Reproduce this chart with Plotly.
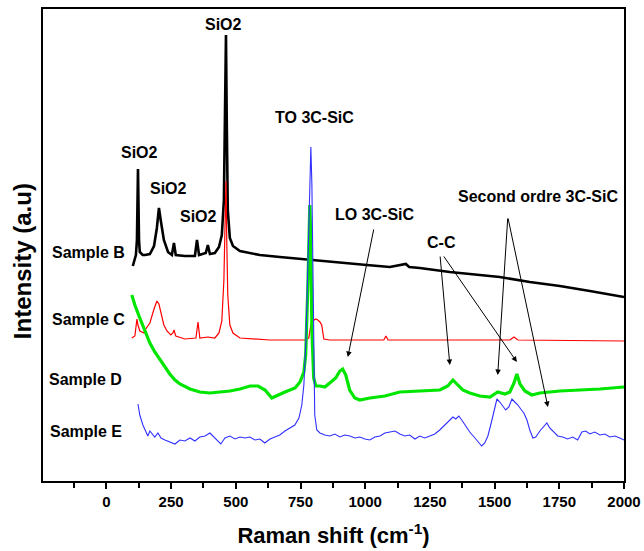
import plotly.graph_objects as go

# ---- data (Raman shift in cm-1, intensity in arbitrary units, curves offset) ----
b_x = [102,114,118,122,126,129,140,149,168,184,195,203,211,222,238,253,261,268,303,342,350,358,384,392,400,419,435,446,454,458,462,465,469,477,489,516,593,670,748,825,902,1006,1095,1157,1170,1211,1327,1443,1520,1636,1752,1868,2000]
b_y = [215,226,241,312,241,229,226,226,227,235,253,273,259,241,229,226,238,226,225,225,241,226,228,236,227,228,234,246,281,361,446,361,271,243,235,230,226,224,222,220,218,216,214,217,214,213,209,206,204,199,195,190,184]

c_x = [98,110,118,122,129,145,152,168,184,195,203,211,222,234,249,257,261,268,303,346,354,361,392,419,435,446,454,458,462,465,469,477,489,516,632,767,782,790,797,809,817,825,832,840,863,1072,1080,1088,1327,1559,1575,1590,2000]
c_y = [143,145,162,156,150,148,152,158,172,180,177,168,156,150,146,148,151,145,142,143,159,143,144,143,148,160,201,251,300,241,186,156,148,143,141,141,143,156,160,162,161,159,156,142,141,141,145,141,141,141,144,141,140]

d_x = [98,110,129,149,168,187,207,226,245,265,284,323,361,400,439,477,516,555,586,613,639,663,690,729,748,763,770,778,786,790,794,801,809,825,844,863,886,902,913,925,940,960,979,1018,1076,1134,1211,1288,1319,1339,1354,1377,1404,1443,1482,1512,1540,1559,1575,1586,1598,1617,1644,1675,1752,1830,1907,2000]
d_y = [186,176,163,151,138,129,121,114,107,101,97,92,89,88,89,90,92,95,95,91,83,86,89,93,99,109,126,191,276,241,151,103,95,95,94,98,103,110,112,106,91,83,81,83,85,89,90,91,95,101,97,91,88,85,84,89,87,89,98,107,97,90,86,88,90,91,92,94]

e_x = [122,129,141,153,160,168,176,187,199,211,226,245,265,284,303,323,342,361,381,400,415,431,442,458,477,497,516,535,554,574,593,612,632,651,670,690,709,728,744,755,763,771,779,786,790,794,798,801,805,813,825,844,863,883,902,921,941,960,979,999,1018,1037,1057,1076,1095,1115,1134,1153,1172,1192,1211,1230,1250,1269,1288,1307,1327,1339,1350,1362,1373,1389,1404,1424,1439,1450,1462,1474,1485,1497,1509,1520,1532,1543,1555,1567,1578,1590,1601,1613,1625,1636,1648,1659,1675,1690,1702,1713,1729,1744,1763,1782,1802,1821,1837,1852,1868,1887,1907,1926,1945,1965,1984,2000]
e_y = [77,66,56,48,45,50,47,44,48,43,41,39,37,41,40,43,40,44,45,48,44,40,37,43,45,42,44,43,44,41,42,38,42,44,46,50,53,56,63,76,96,141,221,301,334,296,211,111,66,51,48,46,45,47,44,46,45,43,44,42,41,44,45,48,49,50,47,45,46,42,45,43,45,47,51,56,61,64,62,65,61,55,49,43,38,35,38,45,56,69,82,79,75,71,74,82,79,76,72,68,61,51,43,44,50,54,58,53,49,45,44,42,44,41,49,50,47,49,46,47,44,45,43,41]

x_ticks = [0, 250, 500, 750, 1000, 1250, 1500, 1750, 2000]
x_range = [-245, 2000]
y_range = [0, 472]

sample_labels = ["Sample B", "Sample C", "Sample D", "Sample E"]
sample_label_x = [-71, -71, -79, -79]
sample_label_y = [229, 162, 102, 50]

peak_labels = ["SiO2", "SiO2", "SiO2", "SiO2", "TO 3C-SiC", "LO 3C-SiC", "C-C", "Second ordre 3C-SiC"]
peak_label_x = [129, 238, 354, 454, 803, 1038, 1293, 1667]
peak_label_y = [329, 293, 265, 457, 364, 267, 239, 285]

# arrows: tail (x0, y0) -> head (x1, y1)
arrow_x0 = [1034, 1289, 1300, 1551, 1551]
arrow_y0 = [253, 226, 226, 264, 264]
arrow_x1 = [933, 1327, 1586, 1512, 1706]
arrow_y1 = [124, 116, 119, 106, 74]

FONT = "Liberation Sans, Arial, sans-serif"

fig = go.Figure()
fig.add_trace(go.Scatter(x=b_x, y=b_y, mode="lines", line=dict(color="#000000", width=2.6), name="Sample B"))
fig.add_trace(go.Scatter(x=c_x, y=c_y, mode="lines", line=dict(color="#ff0000", width=1.2), name="Sample C"))
fig.add_trace(go.Scatter(x=d_x, y=d_y, mode="lines", line=dict(color="#00e600", width=3.2), name="Sample D"))
fig.add_trace(go.Scatter(x=e_x, y=e_y, mode="lines", line=dict(color="#3030ff", width=1.1), name="Sample E"))

for t, x, y in zip(sample_labels, sample_label_x, sample_label_y):
    fig.add_annotation(x=x, y=y, text=t, showarrow=False, xref="x", yref="y",
                       font=dict(family=FONT, size=16, color="black", weight="bold"))
for t, x, y in zip(peak_labels, peak_label_x, peak_label_y):
    fig.add_annotation(x=x, y=y, text=t, showarrow=False, xref="x", yref="y",
                       font=dict(family=FONT, size=16, color="black", weight="bold"))
for x0, y0, x1, y1 in zip(arrow_x0, arrow_y0, arrow_x1, arrow_y1):
    fig.add_annotation(x=x1, y=y1, ax=x0, ay=y0, xref="x", yref="y", axref="x", ayref="y",
                       text="", showarrow=True, arrowhead=2, arrowsize=1.1, arrowwidth=1, arrowcolor="black")

# y-axis title placed as a rotated annotation (centred slightly below the plot middle, as in the reference)
fig.add_annotation(x=-0.036, y=0.466, xref="paper", yref="paper", text="Intensity (a.u)",
                   textangle=-90, showarrow=False, xanchor="center", yanchor="middle",
                   font=dict(family=FONT, size=24, color="black", weight="bold"))

fig.update_layout(
    width=644, height=551,
    margin=dict(l=43, r=20, t=9, b=70),
    paper_bgcolor="white", plot_bgcolor="white",
    showlegend=False,
    font=dict(family=FONT, color="black"),
)
fig.update_xaxes(
    range=x_range, tickvals=x_ticks, ticktext=[str(v) for v in x_ticks],
    ticks="outside", ticklen=6, tickwidth=1.5, tickcolor="black",
    minor=dict(dtick=125, tick0=-125, ticks="outside", ticklen=5, tickwidth=1.5, tickcolor="black"),
    showline=True, linewidth=2, linecolor="black", mirror=True,
    showgrid=False, zeroline=False, automargin=False,
    tickfont=dict(family=FONT, size=15, color="black", weight="bold"),
    title=dict(text="Raman shift (cm<sup>-1</sup>)", standoff=19,
               font=dict(family=FONT, size=22, color="black", weight="bold")),
)
fig.update_yaxes(
    range=y_range, showticklabels=False, ticks="",
    showline=True, linewidth=2, linecolor="black", mirror=True,
    showgrid=False, zeroline=False, automargin=False,
)

fig.write_html("out.html")
